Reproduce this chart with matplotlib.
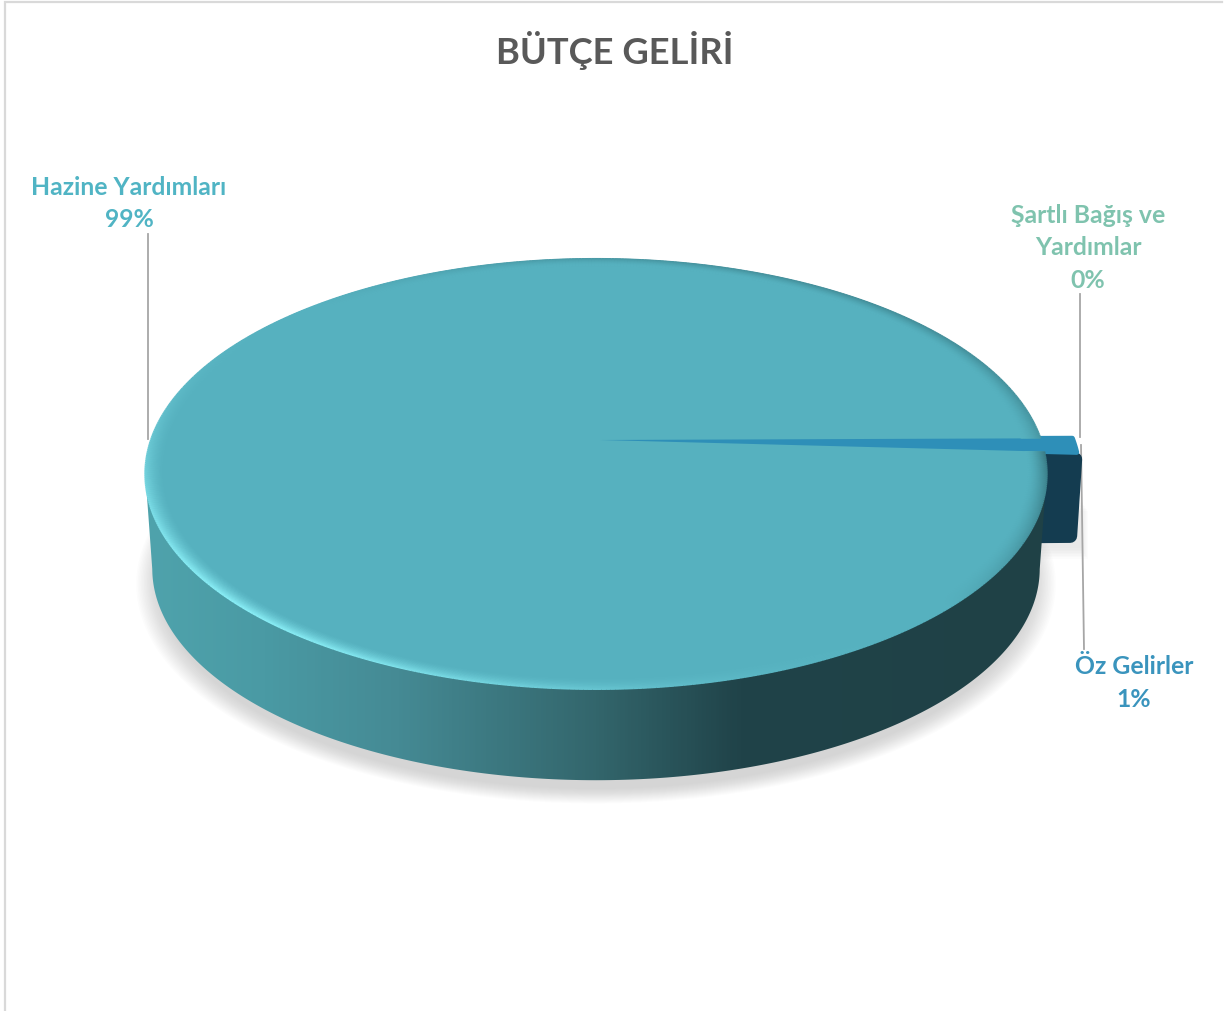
"""
Butce geliri pasta grafigi (3D gorunumlu)
"""

import numpy as np
import matplotlib
matplotlib.use("Agg")
import matplotlib.pyplot as plt
from matplotlib.collections import LineCollection
from matplotlib.colors import LinearSegmentedColormap, to_rgb
from matplotlib.patches import Polygon

plt.rcParams['font.family'] = ['Lato', 'DejaVu Sans']

# data
title = "BÜTÇE GELİRİ"
labels = ["Hazine Yardımları", "Şartlı Bağış ve\nYardımlar", "Öz Gelirler"]
shares = [99, 0, 1]

# pie geometry, pixels
cx, cy = 596, 441
tip_x = 600
A, S, k = 445, 209.6, 0.158
depth = 95.7
base_scale = 0.985
explode = 1.072
first_angle = -0.008
top_col = "#56b1bf"
blue_top = "#2e8fb8"
blue_side = "#143c50"


def project(theta, r=1.0, dy=0.0, x0=cx):
    # circle to screen with a bit of perspective, theta clockwise from east
    u = r * np.cos(theta)
    v = r * np.sin(theta)
    w = 1 - k * v
    return np.column_stack((x0 + A * u / w, cy + dy + S * v / w))


def blend(c1, c2, t):
    return np.asarray(c1) * (1 - t[..., None]) + np.asarray(c2) * t[..., None]


fig = plt.figure(figsize=(12.24, 10.12), dpi=100)
ax = fig.add_axes([0, 0, 1, 1])

# frame of the picture
ax.plot([5, 5, 1222], [1012, 3, 3], color="#d9d9d9", lw=1.6, solid_joinstyle="miter", zorder=1)

# slice angles from the values
small = 2 * np.pi * shares[2] / sum(shares)
gap = 2 * np.pi * shares[1] / sum(shares)
main_th = np.linspace(first_angle + small + gap, first_angle + 2 * np.pi, 720)
small_th = np.linspace(first_angle, first_angle + small, 12)

# soft shadow under the pie
full = np.linspace(0, 2 * np.pi, 360)
for sc in np.linspace(1.035, 0.985, 16):
    ax.add_patch(Polygon(project(full, sc * base_scale, depth + 13), closed=True,
                         fc="#9a9a9a", ec="none", alpha=0.028, zorder=2))
for grow in np.linspace(12, 1, 8):
    ax.add_patch(Polygon([(1040, 500 + grow), (1081 + grow * 0.6, 500 + grow), (1081 + grow * 0.6, 548 + grow),
                          (1040, 548 + grow)],
                         closed=True, fc="#9a9a9a", ec="none", alpha=0.022, zorder=2))

# cut face of the small slice
p0 = np.array([[tip_x, cy + 14]])
p1 = project(np.array([small]), explode)
face = np.vstack((p0, p1 + [-2, 5], p1 + [-7, depth - 14], p0 + [0, depth - 10]))
ax.add_patch(Polygon(face, closed=True, fc=blue_side, ec=blue_side, lw=10, joinstyle="round", zorder=3))

# rim of the main slice, dark gradient clipped to the hull of both ellipses
te = np.arcsin(k)
arc = np.linspace(te, np.pi - te, 400)
band = np.vstack((project(arc), project(arc[::-1], base_scale, depth)))
band_patch = Polygon(band, closed=True, fc="none", ec="none", zorder=4)
ax.add_patch(band_patch)
side_cmap = LinearSegmentedColormap.from_list(
    "side", [(0, "#4fa3ac"), (0.13, "#4a9aa4"), (0.28, "#458a94"), (0.5, "#33666c"),
             (0.66, "#204349"), (1, "#1f4146")])
im = ax.imshow(np.linspace(0, 1, 600)[None, :], extent=(145, 1047, 800, 440), cmap=side_cmap,
               aspect="auto", zorder=4)
im.set_clip_path(band_patch)

# small slice top
wedge = np.vstack(([[tip_x, cy]], project(small_th, explode)))
ax.add_patch(Polygon(wedge, closed=True, fc=blue_top, ec=blue_top, lw=3.5, joinstyle="round", zorder=5))

# main slice top
main_top = np.vstack(([[tip_x, cy]], project(main_th)))
ax.add_patch(Polygon(main_top, closed=True, fc=top_col, ec="none", zorder=6))

# bevel along the top edge, light from lower left
lit = np.cos(main_th[:-1] - np.radians(135))
upper = np.sin(main_th[:-1]) < 0
for t in np.linspace(0, 1, 22):
    pts = project(main_th, 1 - 0.042 * t)
    segs = np.stack((pts[:-1], pts[1:]), axis=1)
    fade = (1 - t) ** 1.6
    up = np.clip(lit, 0, 1) ** 3 * fade
    down = np.clip(-lit, 0, 1) * fade * np.where(upper, 0.35, 0.8)
    rgb = blend(to_rgb(top_col), to_rgb("#8bf0f8"), up)
    rgb = blend(rgb, to_rgb("#1f4a50"), down)
    ax.add_collection(LineCollection(segs, colors=rgb, linewidths=1.5, capstyle="butt", zorder=7))

# leader lines
leader = "#a6a6a6"
ax.plot([148, 148], [235, 440], color=leader, lw=1.3, zorder=1.5)
ax.plot([1080, 1080], [295, 438], color=leader, lw=1.3, zorder=1.5)
ax.plot([1081, 1084], [446, 650], color=leader, lw=1.3, zorder=2.5)

# texts
ax.text(615, 50, title, color="#595959", fontsize=26.2, fontweight="bold", ha="center", va="center")
ax.text(129, 203.5, labels[0] + "\n%d%%" % shares[0], color="#50b4c4", fontsize=17.8, fontweight="bold",
        ha="center", va="center", linespacing=1.5)
ax.text(1088, 247.5, labels[1] + "\n%d%%" % shares[1], color="#7fc3ae", fontsize=17.8, fontweight="bold",
        ha="center", va="center", linespacing=1.5)
ax.text(1134, 683, labels[2] + "\n%d%%" % shares[2], color="#3a94bd", fontsize=17.8, fontweight="bold",
        ha="center", va="center", linespacing=1.5)

ax.set_xlim(0, 1224)
ax.set_ylim(1012, 0)
ax.axis("off")

fig.savefig("out.png", dpi=100, facecolor="white")
